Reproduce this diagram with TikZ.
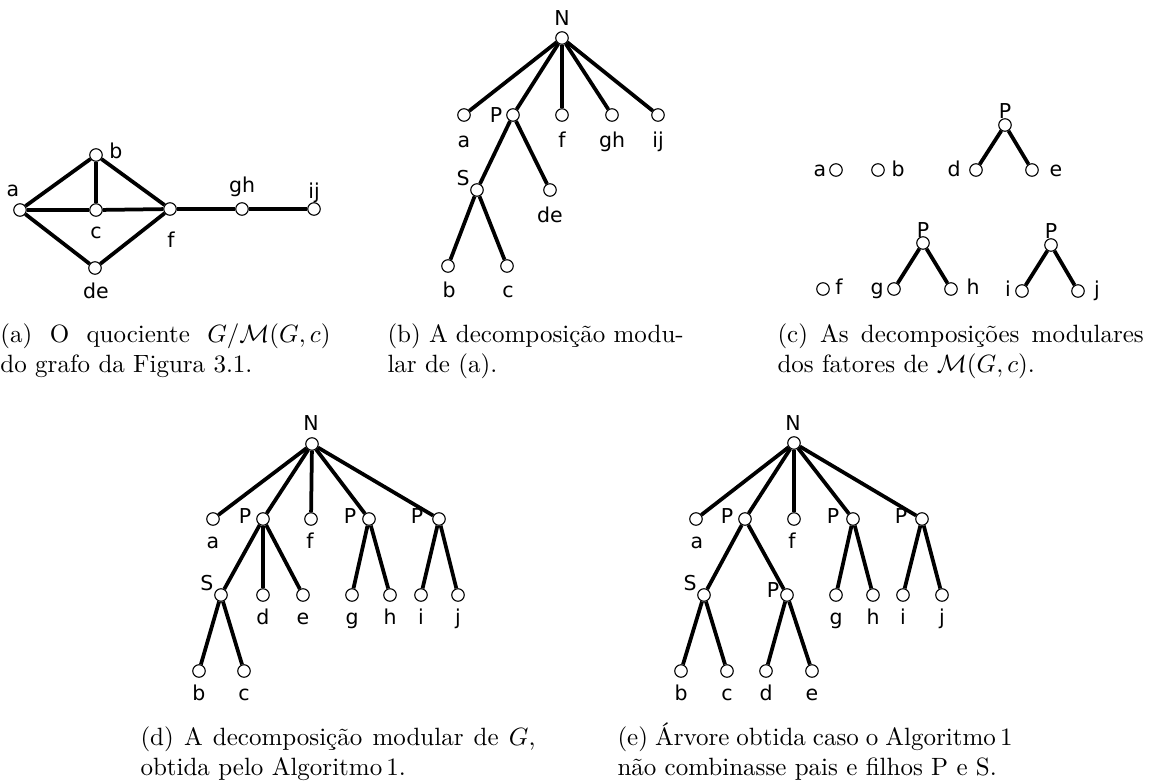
\documentclass[tikz,border=0pt]{standalone}
\usepackage{amsmath,amssymb}
\usepackage{fontspec}
\newfontfamily\lblfont{DejaVu Sans}
\begin{document}
\begin{tikzpicture}[x=0.4pt,y=-0.4pt,
    vtx/.style={circle,draw,fill=white,line width=0.45pt,inner sep=0pt,minimum size=5pt},
    lbl/.style={anchor=base,inner sep=0pt,font=\lblfont\fontsize{8.2}{9}\selectfont},
    edge/.style={line width=1.5pt},
    capt/.style={anchor=base west,inner sep=0pt,align=justify,font=\fontsize{10}{12}\selectfont}]
  \useasboundingbox (0,0) rectangle (1158,782);
  % (a) quotient graph
  \foreach \n/\x/\y/\t/\lx/\ly in {Aa/20/210/a/13/196,Ab/96/155/b/116/158,Ac/96/210/c/96/238,
      Af/170/209/f/171/247,Ade/95/268/de/96/298,Agh/242/209/gh/242/192,Aij/314/209/ij/314/198}
    {\node[vtx] (\n) at (\x,\y) {}; \node[lbl] (\n-l) at (\lx,\ly) {\t};}
  \foreach \u/\v in {Aa/Ab,Aa/Ac,Aa/Ade,Ab/Ac,Ab/Af,Ac/Af,Ade/Af,Af/Agh,Agh/Aij}
    \draw[edge] (\u) -- (\v);
  % (b) decomposition of (a)
  \foreach \n/\x/\y/\t/\lx/\ly in {BN/562/38/N/562/25,Ba/464/115/a/464/147,BP/513/115/P/496/122,
      Bf/562/115/f/562/147,Bgh/612/115/gh/612/147,Bij/658/115/ij/658/147,BS/477/190/S/463/185,
      Bde/550/190/de/550/222,Bb/448/266/b/449/297,Bc/507/266/c/508/297}
    {\node[vtx] (\n) at (\x,\y) {}; \node[lbl] (\n-l) at (\lx,\ly) {\t};}
  \foreach \u/\v in {BN/Ba,BN/BP,BN/Bf,BN/Bgh,BN/Bij,BP/BS,BP/Bde,BS/Bb,BS/Bc}
    \draw[edge] (\u) -- (\v);
  % (c) factors
  \foreach \n/\x/\y/\t/\lx/\ly in {Ca/836/170/a/820/176,Cb/878/170/b/898/176,CP/1005/125/P/1005/118,
      Cd/976/170/d/954/176,Ce/1032/170/e/1056/176,Cf/823/289/f/839/294,CQ/923/243/P/923/237,
      Cg/894/289/g/877/294,Ch/951/289/h/973/294,CR/1051/245/P/1051/238,Ci/1022/291/i/1008/296,
      Cj/1078/291/j/1097/296}
    {\node[vtx] (\n) at (\x,\y) {}; \node[lbl] (\n-l) at (\lx,\ly) {\t};}
  \foreach \u/\v in {CP/Cd,CP/Ce,CQ/Cg,CQ/Ch,CR/Ci,CR/Cj}
    \draw[edge] (\u) -- (\v);
  % (d) modular decomposition of G
  \foreach \n/\x/\y/\t/\lx/\ly in {DN/312/444/N/311/430,Da/213/519/a/213/548,DP/263/519/P/245/523,
      Df/311/519/f/310/548,DQ/369/519/P/350/523,DR/439/519/P/417/523,DS/221/595/S/207/590,
      Dd/263/595/d/263/624,De/303/595/e/303/624,Dg/352/595/g/352/624,Dh/390/595/h/390/624,
      Di/421/595/i/421/624,Dj/458/595/j/458/624,Db/199/671/b/199/700,Dc/244/671/c/244/700}
    {\node[vtx] (\n) at (\x,\y) {}; \node[lbl] (\n-l) at (\lx,\ly) {\t};}
  \foreach \u/\v in {DN/Da,DN/DP,DN/Df,DN/DQ,DN/DR,DP/DS,DP/Dd,DP/De,DS/Db,DS/Dc,DQ/Dg,DQ/Dh,DR/Di,DR/Dj}
    \draw[edge] (\u) -- (\v);
  % (e) tree without merging
  \foreach \n/\x/\y/\t/\lx/\ly in {EN/794/443/N/793/430,Ea/696/519/a/697/548,EP/745/519/P/727/523,
      Ef/794/519/f/792/548,EQ/853/519/P/833/523,ER/922/519/P/901/523,ES/704/595/S/690/590,
      ET/787/595/P/773/597,Eg/836/595/g/836/624,Eh/873/595/h/873/624,Ei/903/595/i/903/624,
      Ej/942/595/j/942/624,Eb/681/671/b/681/700,Ec/727/671/c/727/700,Ed/766/671/d/766/700,
      Ee/812/671/e/812/700}
    {\node[vtx] (\n) at (\x,\y) {}; \node[lbl] (\n-l) at (\lx,\ly) {\t};}
  \foreach \u/\v in {EN/Ea,EN/EP,EN/Ef,EN/EQ,EN/ER,EP/ES,EP/ET,ES/Eb,ES/Ec,ET/Ed,ET/Ee,EQ/Eg,EQ/Eh,ER/Ei,ER/Ej}
    \draw[edge] (\u) -- (\v);
  % captions
  \node[capt,text width=132pt] (capA) at (0,342)
    {(a) O quociente $G/\mathcal{M}(G,c)$\linebreak do grafo da Figura 3.1.};
  \node[capt,text width=118.5pt] (capB) at (387,342)
    {(b) A decomposição modu-\linebreak lar de (a).};
  \node[capt,text width=146.5pt] (capC) at (777,342)
    {(c) As decomposições modulares\linebreak dos fatores de $\mathcal{M}(G,c)$.};
  \node[capt,text width=158pt] (capD) at (140,745)
    {(d) A decomposição modular de $G$,\linebreak obtida pelo Algoritmo\,1.};
  \node[capt,text width=158pt] (capE) at (617,745)
    {(e) Árvore obtida caso o Algoritmo\,1\linebreak não combinasse pais e filhos P e S.};
\end{tikzpicture}
\end{document}
